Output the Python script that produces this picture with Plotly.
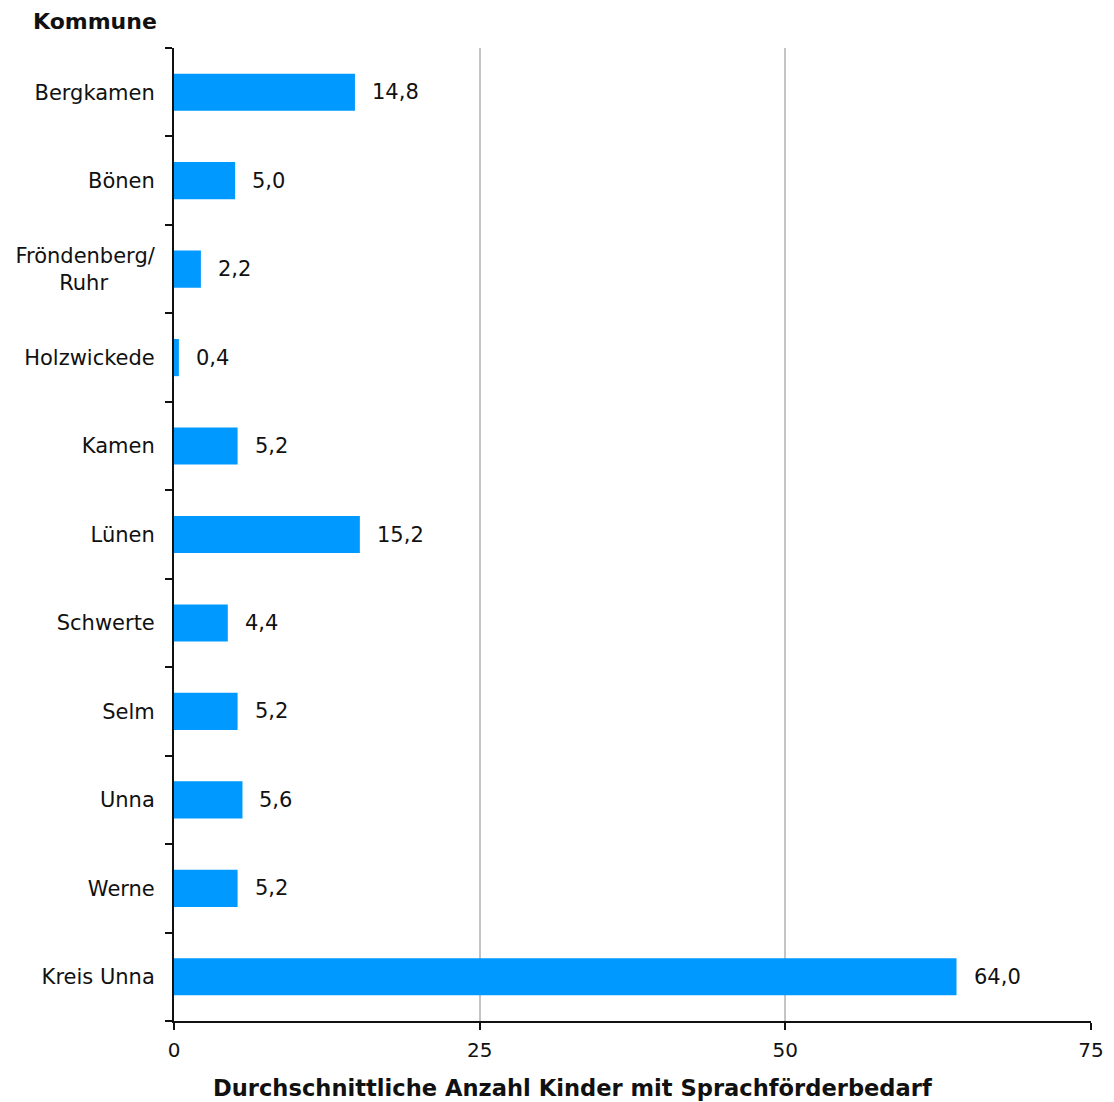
import plotly.graph_objects as go

# Durchschnittliche Anzahl Kinder mit Sprachförderbedarf je Kommune
kommunen = [
    "Bergkamen", "Bönen", "Fröndenberg/Ruhr", "Holzwickede", "Kamen",
    "Lünen", "Schwerte", "Selm", "Unna", "Werne", "Kreis Unna",
]
# Displayed category labels (long name wrapped, second line centred)
NBSP = "\u00a0"
kommunen_labels = [
    "Bergkamen", "Bönen", "Fröndenberg/<br>Ruhr" + NBSP * 7, "Holzwickede", "Kamen",
    "Lünen", "Schwerte", "Selm", "Unna", "Werne", "Kreis Unna",
]
werte = [14.8, 5.0, 2.2, 0.4, 5.2, 15.2, 4.4, 5.2, 5.6, 5.2, 64.0]
x_ticks = [0, 25, 50, 75]

FONT = "DejaVu Sans"
BAR_COLOR = "#0099ff"
W, H = 1114, 1102
L, R, T, B = 174, 23, 48, 81
PW, PH = W - L - R, H - T - B


def px_x(px):
    """Pixel column -> plot-area fraction."""
    return (px - L) / PW


def px_y(py):
    """Pixel row -> plot-area fraction (from bottom)."""
    return (H - B - py) / PH


fig = go.Figure(
    go.Bar(
        x=werte,
        y=kommunen,
        orientation="h",
        marker=dict(color=BAR_COLOR, line=dict(width=0)),
        hoverinfo="skip",
    )
)

# Value labels to the right of each bar, German decimal comma
for k, v in zip(kommunen, werte):
    fig.add_annotation(
        x=v, y=k, xref="x", yref="y",
        text=f"{v:.1f}".replace(".", ","),
        showarrow=False, xanchor="left", yanchor="middle",
        xshift=15, font=dict(family=FONT, size=21, color="#111111"),
    )

# Category axis heading above the plot
fig.add_annotation(
    x=px_x(95), y=px_y(21), xref="paper", yref="paper",
    text="<b>Kommune</b>",
    showarrow=False, xanchor="center", yanchor="middle",
    font=dict(family=FONT, size=22, color="#111111"),
)

# Value axis title below the tick labels
fig.add_annotation(
    x=px_x(573), y=px_y(1088), xref="paper", yref="paper",
    text="<b>Durchschnittliche Anzahl Kinder mit Sprachförderbedarf</b>",
    showarrow=False, xanchor="center", yanchor="middle",
    font=dict(family=FONT, size=22.6, color="#111111"),
)

fig.update_layout(
    width=W,
    height=H,
    margin=dict(l=L, r=R, t=T, b=B, autoexpand=False),
    plot_bgcolor="white",
    paper_bgcolor="white",
    bargap=0.58,
    showlegend=False,
    font=dict(family=FONT, size=21, color="#111111"),
    xaxis=dict(
        range=[0, 75],
        tickvals=x_ticks,
        ticktext=[str(t) for t in x_ticks],
        showgrid=True,
        gridcolor="#c4c4c4",
        gridwidth=2,
        showline=True,
        linecolor="#111111",
        linewidth=2,
        ticks="outside",
        ticklen=7,
        tickwidth=2,
        tickcolor="#111111",
        zeroline=False,
        tickfont=dict(family=FONT, size=20),
        ticklabelstandoff=3,
    ),
    yaxis=dict(
        autorange="reversed",
        tickvals=kommunen,
        ticktext=kommunen_labels,
        showline=True,
        linecolor="#111111",
        linewidth=2,
        ticks="outside",
        tickson="boundaries",
        ticklen=7,
        tickwidth=2,
        tickcolor="#111111",
        showgrid=False,
        tickfont=dict(family=FONT, size=21),
        ticklabelstandoff=13,
    ),
)

fig.write_html("out.html")
